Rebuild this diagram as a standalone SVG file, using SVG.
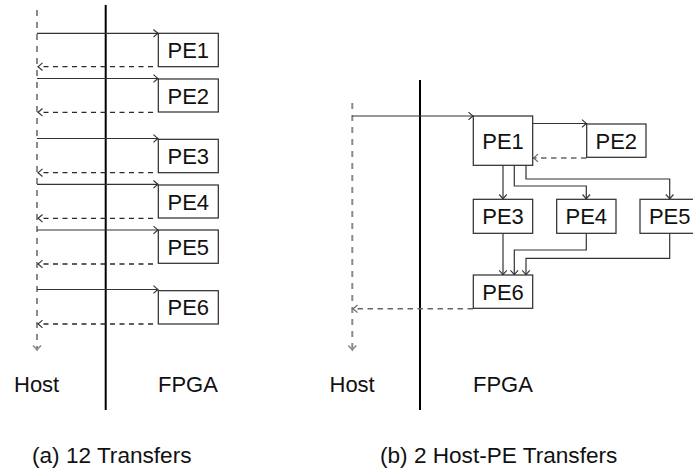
<svg xmlns="http://www.w3.org/2000/svg" width="693" height="472" viewBox="0 0 693 472">
  <style>
    .pe rect { fill: #fff; stroke: #2a2a2a; stroke-width: 1.2; }
    .pe text, .lbl { font-family: "Liberation Sans", Arial, sans-serif; font-size: 22px; fill: #111; }
    .pe text { text-anchor: middle; }
    .cap { font-family: "Liberation Sans", Arial, sans-serif; font-size: 22.6px; fill: #111; }
    .wall { stroke: #000; stroke-width: 2; }
    .timeline { stroke: #8a8a8a; stroke-width: 2; stroke-dasharray: 6 6; fill: none; marker-end: url(#arrGrey); }
    .send { stroke: #333; stroke-width: 1.2; fill: none; marker-end: url(#arrDark); }
    .back { stroke: #2a2a2a; stroke-width: 1.3; fill: none; stroke-dasharray: 5 4.5; marker-end: url(#arrDark); }
    .backGrey { stroke: #666; stroke-width: 1.4; fill: none; stroke-dasharray: 5.5 4.5; marker-end: url(#arrMid); }
  </style>
  <defs>
    <marker id="arrDark" markerUnits="userSpaceOnUse" markerWidth="10" markerHeight="10" orient="auto" refX="0" refY="0" viewBox="-6 -5 7 10" overflow="visible">
      <path d="M-4.5,-3.8 Q-1.5,-1 0,0 Q-1.5,1 -4.5,3.8" fill="none" stroke="#333" stroke-width="1.1"/>
    </marker>
    <marker id="arrMid" markerUnits="userSpaceOnUse" markerWidth="10" markerHeight="10" orient="auto" refX="0" refY="0" viewBox="-6 -5 7 10" overflow="visible">
      <path d="M-4.5,-3.8 Q-1.5,-1 0,0 Q-1.5,1 -4.5,3.8" fill="none" stroke="#666" stroke-width="1.1"/>
    </marker>
    <marker id="arrGrey" markerUnits="userSpaceOnUse" markerWidth="10" markerHeight="10" orient="auto" refX="0" refY="0" viewBox="-6 -5 7 10" overflow="visible">
      <path d="M-4.5,-4 Q-1.5,-1 0,0 Q-1.5,1 -4.5,4" fill="none" stroke="#8a8a8a" stroke-width="1.6"/>
    </marker>
  </defs>

  <!-- (a) one host round trip per processing element -->
  <g id="panel-a-frame">
    <line class="wall" x1="105.7" y1="5" x2="105.7" y2="410"/>
    <line class="timeline" x1="37" y1="10" x2="37" y2="350"/>
    <text class="lbl" x="14" y="392">Host</text>
    <text class="lbl" x="158" y="392">FPGA</text>
    <text class="cap" x="32" y="463">(a) 12 Transfers</text>
  </g>

  <g id="a-connectors">
    <line class="send" x1="37" y1="33.3" x2="158" y2="33.3"/>
    <line class="back" x1="153" y1="66.7" x2="38" y2="66.7"/>
    <line class="send" x1="37" y1="78.5" x2="158" y2="78.5"/>
    <line class="back" x1="153" y1="112.3" x2="38" y2="112.3"/>
    <line class="send" x1="37" y1="138.5" x2="158" y2="138.5"/>
    <line class="back" x1="153" y1="172.7" x2="38" y2="172.7"/>
    <line class="send" x1="37" y1="184.3" x2="158" y2="184.3"/>
    <line class="back" x1="153" y1="218.3" x2="38" y2="218.3"/>
    <line class="send" x1="37" y1="230" x2="158" y2="230"/>
    <line class="back" x1="153" y1="264" x2="38" y2="264"/>
    <line class="send" x1="37" y1="289.5" x2="158" y2="289.5"/>
    <line class="back" x1="153" y1="324" x2="38" y2="324"/>
  </g>

  <g id="a-pe1" class="pe"><rect x="158.3" y="33.3" width="60" height="33.4"/><text x="188.3" y="58.3">PE1</text></g>
  <g id="a-pe2" class="pe"><rect x="158.3" y="79" width="60" height="33"/><text x="188.3" y="103.5">PE2</text></g>
  <g id="a-pe3" class="pe"><rect x="158.3" y="139.3" width="60" height="33.4"/><text x="188.3" y="164">PE3</text></g>
  <g id="a-pe4" class="pe"><rect x="158.3" y="185" width="60" height="33"/><text x="188.3" y="209.5">PE4</text></g>
  <g id="a-pe5" class="pe"><rect x="158.3" y="230" width="60" height="33.3"/><text x="188.3" y="254.5">PE5</text></g>
  <g id="a-pe6" class="pe"><rect x="158.3" y="290.7" width="60" height="33.3"/><text x="188.3" y="315.3">PE6</text></g>

  <!-- (b) data stays on the FPGA between processing elements -->
  <g id="panel-b-frame">
    <line class="wall" x1="420" y1="80" x2="420" y2="410"/>
    <line class="timeline" x1="352.3" y1="103" x2="352.3" y2="350"/>
    <text class="lbl" x="329.5" y="392">Host</text>
    <text class="lbl" x="473" y="392">FPGA</text>
    <text class="cap" x="380" y="463">(b) 2 Host-PE Transfers</text>
  </g>

  <g id="b-connectors">
    <line class="send" x1="352.3" y1="116" x2="473" y2="116"/>
    <line class="send" x1="532.7" y1="123.5" x2="586.5" y2="123.5"/>
    <line class="backGrey" x1="586.5" y1="158" x2="533.5" y2="158"/>
    <line class="send" x1="503" y1="165.3" x2="503" y2="199"/>
    <polyline class="send" points="514.3,165.3 514.3,186 586.3,186 586.3,199"/>
    <polyline class="send" points="526,165.3 526,179 669.7,179 669.7,199"/>
    <line class="send" x1="503" y1="233.3" x2="503" y2="274.8"/>
    <polyline class="send" points="586.3,233.3 586.3,250 514.3,250 514.3,274.8"/>
    <polyline class="send" points="669.7,233.3 669.7,258.3 526,258.3 526,274.8"/>
    <line class="backGrey" x1="473" y1="308.8" x2="353" y2="308.8"/>
  </g>

  <g id="b-pe1" class="pe"><rect x="473.3" y="116" width="59.4" height="49.3"/><text x="503" y="148.5">PE1</text></g>
  <g id="b-pe2" class="pe"><rect x="586.7" y="124" width="59.3" height="33.3"/><text x="616.3" y="148.5">PE2</text></g>
  <g id="b-pe3" class="pe"><rect x="473.3" y="199.3" width="59.4" height="34"/><text x="503" y="224">PE3</text></g>
  <g id="b-pe4" class="pe"><rect x="556.7" y="199.3" width="59.3" height="34"/><text x="586.3" y="224">PE4</text></g>
  <g id="b-pe5" class="pe"><rect x="640" y="199.3" width="59.4" height="34"/><text x="669.7" y="224">PE5</text></g>
  <g id="b-pe6" class="pe"><rect x="473.3" y="275" width="59.4" height="33.3"/><text x="503" y="299.5">PE6</text></g>
</svg>
